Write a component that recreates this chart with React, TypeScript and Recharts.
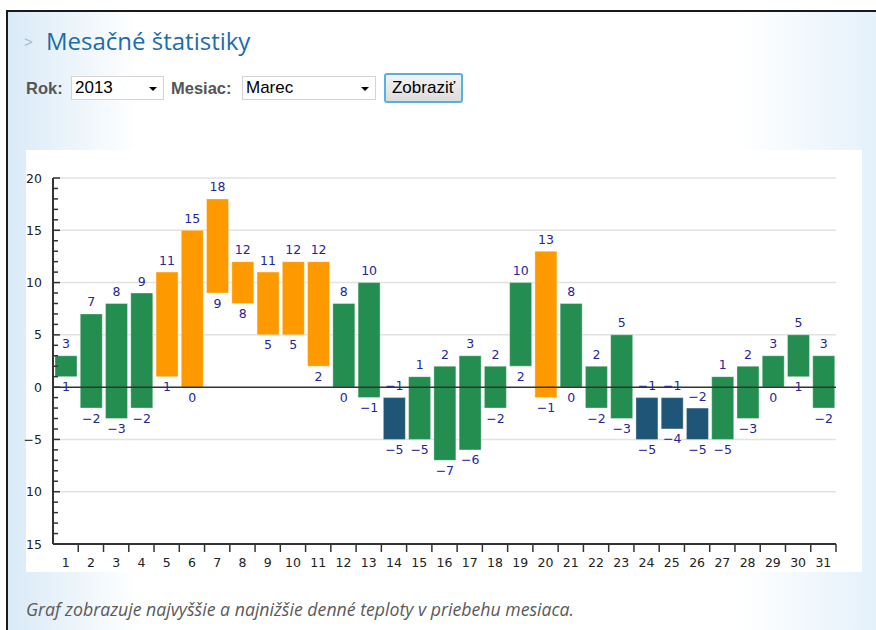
import React from 'react';
import { BarChart, Bar, XAxis, YAxis, Cell, ReferenceLine, CartesianGrid } from 'recharts';

const days = ['1','2','3','4','5','6','7','8','9','10','11','12','13','14','15','16','17','18','19','20','21','22','23','24','25','26','27','28','29','30','31'];
const maxTemps = [3, 7, 8, 9, 11, 15, 18, 12, 11, 12, 12, 8, 10, -1, 1, 2, 3, 2, 10, 13, 8, 2, 5, -1, -1, -2, 1, 2, 3, 5, 3];
const minTemps = [1, -2, -3, -2, 1, 0, 9, 8, 5, 5, 2, 0, -1, -5, -5, -7, -6, -2, 2, -1, 0, -2, -3, -5, -4, -5, -5, -3, 0, 1, -2];

const yMinorTicks = [-15,-14,-13,-12,-11,-10,-9,-8,-7,-6,-5,-4,-3,-2,-1,0,1,2,3,4,5,6,7,8,9,10,11,12,13,14,15,16,17,18,19,20];
const yLabelValues = [20, 15, 10, 5, 0, -5, -10, -15];
const yLabelTexts = ['20', '15', '10', '5', '0', '\u22125', '10', '15'];
const gridValues = [20, 15, 10, 5, -5, -10];

const COLOR_WARM = '#ff9900';
const COLOR_MILD = '#238e50';
const COLOR_COLD = '#1f5677';

const data = days.map((d, i) => ({ day: d, range: [minTemps[i], maxTemps[i]] }));

const colorFor = (max: number) => (max >= 11 ? COLOR_WARM : max < 0 ? COLOR_COLD : COLOR_MILD);
const fmt = (v: number) => (v < 0 ? '\u2212' + Math.abs(v) : String(v));

const tickFont = "'DejaVu Sans', Verdana, sans-serif";
const uiFont = "'Liberation Sans', Arial, sans-serif";

const YTick = (props: any) => {
  const { x, y, payload } = props;
  const v = payload.value as number;
  const idx = yLabelValues.indexOf(v);
  const major = idx >= 0;
  return (
    <g>
      <line x1={x} x2={x + (major ? 7 : 5)} y1={y} y2={y} stroke="#333" strokeWidth={1.5} />
      {major && (
        <text x={x - 11} y={y + 4.5} textAnchor="end" fontFamily={tickFont} fontSize={12.5} fill="#222">
          {yLabelTexts[idx]}
        </text>
      )}
    </g>
  );
};

const XTick = (props: any) => {
  const { x, y, payload, index } = props;
  const band = 783 / days.length;
  return (
    <g>
      {index > 0 && <line x1={x - band / 2} x2={x - band / 2} y1={y} y2={y + 8} stroke="#333" strokeWidth={1.5} />}
      {index === days.length - 1 && <line x1={x + band / 2} x2={x + band / 2} y1={y} y2={y + 8} stroke="#333" strokeWidth={1.5} />}
      <text x={x} y={y + 23} textAnchor="middle" fontFamily={tickFont} fontSize={12.5} fill="#222">
        {payload.value}
      </text>
    </g>
  );
};

const renderLabel = (props: any) => {
  const { x, y, width, height, index } = props;
  const top = Math.min(y, y + height);
  const bottom = Math.max(y, y + height);
  const cx = x + width / 2;
  return (
    <g>
      <text x={cx} y={top - 7.5} textAnchor="middle" fontFamily={tickFont} fontSize={12.5} fill="#25259a">
        {fmt(maxTemps[index])}
      </text>
      <text x={cx} y={bottom + 14.5} textAnchor="middle" fontFamily={tickFont} fontSize={12.5} fill="#25259a">
        {fmt(minTemps[index])}
      </text>
    </g>
  );
};

const Dropdown = ({ left, width, text }: { left: number; width: number; text: string }) => (
  <div style={{ position: 'absolute', left, top: 76, width, height: 24, boxSizing: 'border-box', border: '1px solid #d4d4d4', background: '#fff' }}>
    <span style={{ position: 'absolute', left: 3, top: 1, fontFamily: uiFont, fontSize: 17, color: '#000', lineHeight: '20px' }}>{text}</span>
    <div style={{ position: 'absolute', right: 6, top: 10, width: 0, height: 0, borderLeft: '4px solid transparent', borderRight: '4px solid transparent', borderTop: '4px solid #000' }} />
  </div>
);

export default function App() {
  return (
    <div style={{ position: 'absolute', left: 0, top: 0, width: 876, height: 630, overflow: 'hidden', background: '#fff' }}>
      <div
        style={{
          position: 'absolute', left: 6, top: 10, width: 880, height: 640, boxSizing: 'border-box',
          borderTop: '2px solid #1a1a1a', borderLeft: '2px solid #1a1a1a',
          background: 'linear-gradient(to right, #d9eaf7 0px, #ffffff 130px, #ffffff 730px, #e4f1fb 868px)',
        }}
      />
      <div style={{ position: 'absolute', left: 24, top: 33, fontFamily: uiFont, fontSize: 15, color: '#9bbdd6' }}>&gt;</div>
      <div style={{ position: 'absolute', left: 46, top: 25, fontFamily: "'Open Sans', sans-serif", fontSize: 24, color: '#1d6ca9', lineHeight: '32px', whiteSpace: 'nowrap' }}>
        Mesačné štatistiky
      </div>
      <div style={{ position: 'absolute', left: 26, top: 77, fontFamily: uiFont, fontWeight: 'bold', fontSize: 16.5, color: '#555', lineHeight: '22px' }}>Rok:</div>
      <Dropdown left={71} width={93} text="2013" />
      <div style={{ position: 'absolute', left: 171, top: 77, fontFamily: uiFont, fontWeight: 'bold', fontSize: 16.5, color: '#555', lineHeight: '22px' }}>Mesiac:</div>
      <Dropdown left={242} width={134} text="Marec" />
      <div
        style={{
          position: 'absolute', left: 384, top: 73, width: 79, height: 30, boxSizing: 'border-box',
          border: '2px solid #5ab0dd', borderRadius: 3, background: 'linear-gradient(#f4f4f4, #dcdcdc)',
          fontFamily: uiFont, fontSize: 17, color: '#000', textAlign: 'center', lineHeight: '26px',
        }}
      >
        Zobraziť
      </div>
      <div style={{ position: 'absolute', left: 26, top: 150, width: 836, height: 422, background: '#fff' }} />
      <div style={{ position: 'absolute', left: 16, top: 150, width: 846, height: 422 }}>
        <BarChart width={846} height={422} data={data} margin={{ top: 28, right: 26, bottom: 0, left: 10 }} barSize={22}>
          <YAxis yAxisId="grid" hide type="number" domain={[-15, 20]} ticks={gridValues} allowDataOverflow />
          <CartesianGrid yAxisId="grid" vertical={false} stroke="#e2e2e2" strokeWidth={1.5} />
          <XAxis
            dataKey="day"
            height={28}
            interval={0}
            tickLine={false}
            tickSize={0}
            tickMargin={0}
            axisLine={{ stroke: '#333', strokeWidth: 2 }}
            tick={<XTick />}
          />
          <YAxis
            type="number"
            width={27}
            domain={[-15, 20]}
            ticks={yMinorTicks}
            interval={0}
            allowDataOverflow
            tickLine={false}
            tickSize={0}
            tickMargin={0}
            axisLine={{ stroke: '#333', strokeWidth: 2 }}
            tick={<YTick />}
          />
          <Bar dataKey="range" isAnimationActive={false} stroke="#ffffff" strokeOpacity={0.35} strokeWidth={1} label={renderLabel}>
            {data.map((d, i) => (
              <Cell key={d.day} fill={colorFor(maxTemps[i])} />
            ))}
          </Bar>
          <ReferenceLine y={0} stroke="#333" strokeWidth={1.5} />
        </BarChart>
      </div>
      <div style={{ position: 'absolute', left: 26, top: 597, fontFamily: "'Open Sans', sans-serif", fontStyle: 'italic', fontSize: 17.7, color: '#5a5a5a', whiteSpace: 'nowrap', lineHeight: '24px' }}>
        Graf zobrazuje najvyššie a najnižšie denné teploty v priebehu mesiaca.
      </div>
    </div>
  );
}
